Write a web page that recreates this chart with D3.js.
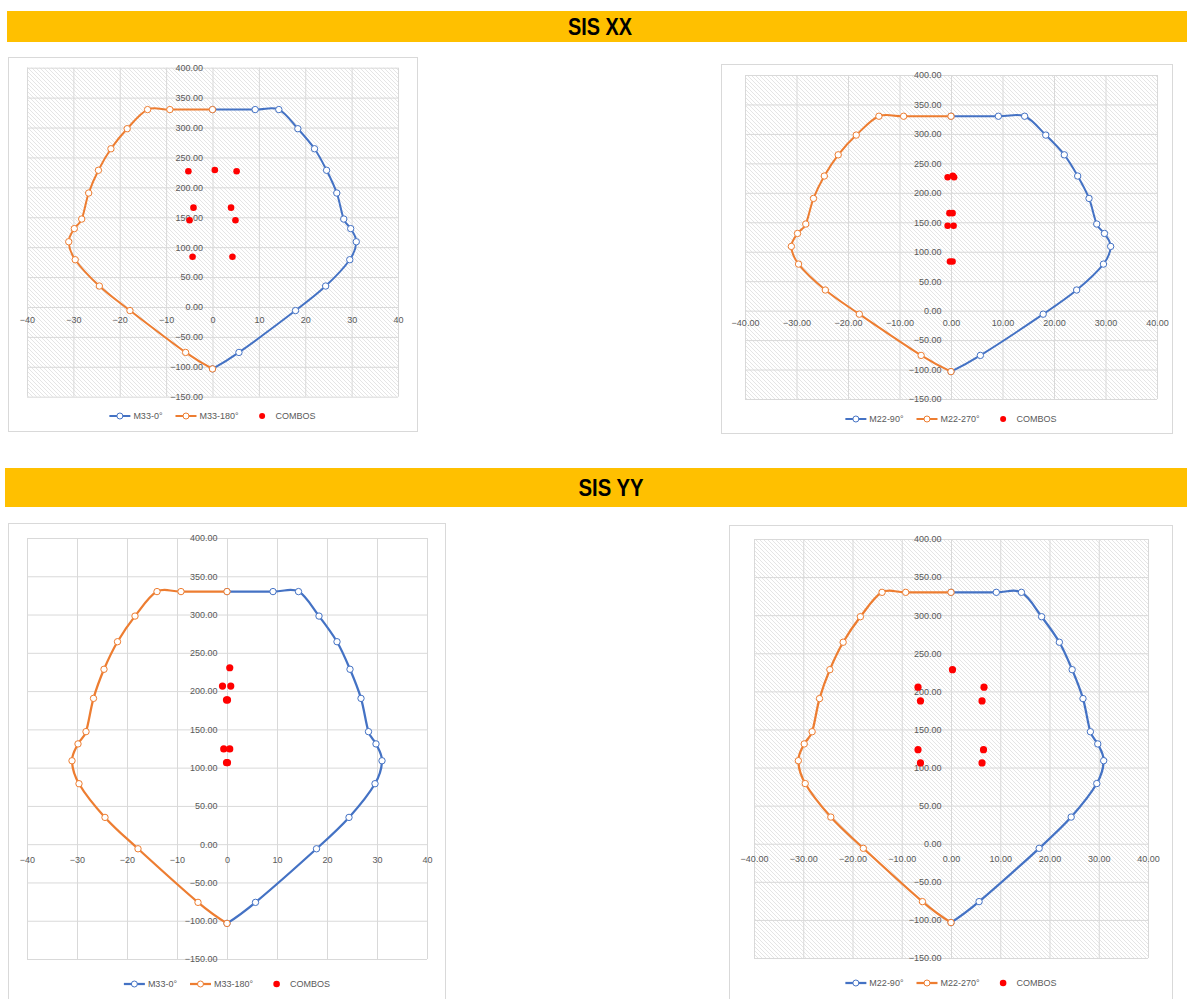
<!DOCTYPE html>
<html>
<head>
<meta charset="utf-8">
<script src="https://cdn.jsdelivr.net/npm/d3@7"></script>
<style>
  html, body { margin: 0; padding: 0; background: #fff; }
  svg { display: block; }
</style>
</head>
<body>
<svg id="sheet" width="1187" height="999"></svg>
<script>
// Axis ticks (moment in X, axial load in Y)
const momentTicks = [-40, -30, -20, -10, 0, 10, 20, 30, 40];
const axialTicks = [-150, -100, -50, 0, 50, 100, 150, 200, 250, 300, 350, 400];

// Interaction diagram, positive-moment branch [M, P]
const branchPositive = [
  [0, 330], [9.2, 330], [14.3, 330], [18.4, 298], [22.0, 264.5], [24.6, 228.5],
  [26.8, 190.5], [28.3, 147], [29.8, 131], [31.0, 109], [29.6, 79], [24.4, 35],
  [17.9, -6], [5.7, -76], [0, -103.5]
];
// Interaction diagram, negative-moment branch [M, P]
const branchNegative = [
  [0, 330], [-9.2, 330], [-14.0, 330], [-18.4, 298], [-21.9, 264.5], [-24.6, 228.5],
  [-26.7, 190.5], [-28.2, 147], [-29.8, 131], [-31.0, 109], [-29.6, 79], [-24.4, 35],
  [-17.8, -6], [-5.8, -76], [0, -103.5]
];

// Load combinations [M, P]
const combosXxM33 = [
  [-5.2, 227], [0.5, 229], [5.2, 227], [-4.1, 166], [4.0, 166],
  [-4.95, 145], [4.95, 145], [-4.3, 84], [4.3, 84]
];
const combosXxM22 = [
  [-0.65, 226.5], [0.35, 229], [0.6, 226.5], [-0.3, 165.5], [0.3, 165.5],
  [-0.65, 144], [0.5, 144], [-0.2, 83.5], [0.3, 83.5]
];
const combosYyM33 = [
  [0.55, 230.5], [-0.9, 206.5], [0.75, 206.5], [-0.1, 188.5], [0.1, 188.5],
  [-0.65, 124.5], [0.55, 124.5], [-0.1, 106.5], [0.1, 106.5]
];
const combosYyM22 = [
  [0.3, 228.5], [-6.7, 205.5], [6.7, 205.5], [-6.2, 187.5], [6.3, 187.5],
  [-6.7, 123.5], [6.6, 123.5], [-6.2, 106], [6.3, 106]
];

// Section headers
const headers = [
  { text: "SIS XX", x: 7, y: 11, w: 1180, h: 31, cx: 600, tw: 64 },
  { text: "SIS YY", x: 5, y: 468, w: 1182, h: 39, cx: 611, tw: 65 }
];

const COLORS = { pos: "#4472C4", neg: "#ED7D31", combo: "#FF0000", grid: "#D9D9D9", text: "#595959" };

const panels = [
  { id: "xx33", box: [8, 57, 409, 374], plot: [27, 67.7, 398, 396.7], hatched: true,
    xFmt: d3.format("d"), names: ["M33-0°", "M33-180°", "COMBOS"], combos: combosXxM33,
    legendY: 416, xPad: 9.5, r: 3.3, lw: 2 },
  { id: "xx22", box: [721, 64, 451, 369], plot: [745, 75, 1157, 399], hatched: true,
    xFmt: d3.format(".2f"), names: ["M22-90°", "M22-270°", "COMBOS"], combos: combosXxM22,
    legendY: 419, xPad: 9, r: 3.3, lw: 2 },
  { id: "yy33", box: [8, 523, 437, 490], plot: [27, 538, 427, 959], hatched: false,
    xFmt: d3.format("d"), names: ["M33-0°", "M33-180°", "COMBOS"], combos: combosYyM33,
    legendY: 984, xPad: 12, r: 3.6, lw: 2.25 },
  { id: "yy22", box: [729, 525, 443, 490], plot: [754, 539, 1148, 958], hatched: true,
    xFmt: d3.format(".2f"), names: ["M22-90°", "M22-270°", "COMBOS"], combos: combosYyM22,
    legendY: 983, xPad: 12, r: 3.6, lw: 2.25 }
];

const svg = d3.select("#sheet");
const defs = svg.append("defs");

// Downward-diagonal pattern fill for the plot areas
const pat = defs.append("pattern")
  .attr("id", "diag")
  .attr("patternUnits", "userSpaceOnUse")
  .attr("width", 4).attr("height", 4);
pat.append("rect").attr("width", 4).attr("height", 4).attr("fill", "#ffffff");
pat.append("path")
  .attr("d", "M-1,-1L5,5M3,-1L5,1M-1,3L1,5")
  .attr("stroke", "#dedede").attr("stroke-width", 0.8);

// Section header bars
headers.forEach(h => {
  svg.append("rect").attr("x", h.x).attr("y", h.y).attr("width", h.w).attr("height", h.h)
    .attr("fill", "#FFC000");
  svg.append("text").attr("x", h.cx).attr("y", h.y + h.h / 2)
    .attr("text-anchor", "middle").attr("dominant-baseline", "central")
    .attr("font-family", "'Liberation Sans', Arial, sans-serif")
    .attr("font-weight", "bold").attr("font-size", 24).attr("fill", "#000")
    .attr("textLength", h.tw).attr("lengthAdjust", "spacingAndGlyphs")
    .text(h.text);
});

panels.forEach(p => {
  const g = svg.append("g").attr("class", "panel-" + p.id);
  const [bx, by, bw, bh] = p.box;
  const [pl, pt, pr, pb] = p.plot;

  g.append("rect").attr("x", bx + 0.5).attr("y", by + 0.5).attr("width", bw).attr("height", bh)
    .attr("fill", "#fff").attr("stroke", COLORS.grid).attr("stroke-width", 1);

  const x = d3.scaleLinear().domain([-40, 40]).range([pl, pr]);
  const y = d3.scaleLinear().domain([-150, 400]).range([pb, pt]);

  g.append("rect").attr("x", pl).attr("y", pt).attr("width", pr - pl).attr("height", pb - pt)
    .attr("fill", p.hatched ? "url(#diag)" : "#fff");

  // Gridlines
  const gx = g.append("g").attr("transform", `translate(0,${pb})`)
    .call(d3.axisBottom(x).tickValues(momentTicks).tickSize(-(pb - pt)).tickFormat(""));
  const gy = g.append("g").attr("transform", `translate(${pl},0)`)
    .call(d3.axisLeft(y).tickValues(axialTicks).tickSize(-(pr - pl)).tickFormat(""));
  [gx, gy].forEach(a => {
    a.select(".domain").remove();
    a.selectAll("line").attr("stroke", COLORS.grid).attr("stroke-width", 1);
  });

  // Axis labels crossing at the origin
  const ax = g.append("g").attr("transform", `translate(0,${y(0)})`)
    .call(d3.axisBottom(x).tickValues(momentTicks).tickSize(0).tickPadding(p.xPad).tickFormat(p.xFmt));
  const ay = g.append("g").attr("transform", `translate(${x(0)},0)`)
    .call(d3.axisLeft(y).tickValues(axialTicks).tickSize(0).tickPadding(9.5).tickFormat(d3.format(".2f")));
  [ax, ay].forEach(a => {
    a.select(".domain").remove();
    a.selectAll("text").attr("fill", COLORS.text).attr("font-size", 9)
      .attr("font-family", "'Liberation Sans', Arial, sans-serif");
  });

  const line = d3.line().x(d => x(d[0])).y(d => y(d[1])).curve(d3.curveCardinal.tension(0));

  [[branchPositive, COLORS.pos], [branchNegative, COLORS.neg]].forEach(([data, col]) => {
    g.append("path").datum(data).attr("d", line)
      .attr("fill", "none").attr("stroke", col).attr("stroke-width", p.lw)
      .attr("stroke-linejoin", "round").attr("stroke-linecap", "round");
    g.selectAll(null).data(data).join("circle")
      .attr("cx", d => x(d[0])).attr("cy", d => y(d[1])).attr("r", 3.2)
      .attr("fill", "#fff").attr("stroke", col).attr("stroke-width", 1);
  });

  g.selectAll(null).data(p.combos).join("circle")
    .attr("cx", d => x(d[0])).attr("cy", d => y(d[1])).attr("r", p.r)
    .attr("fill", COLORS.combo);

  // Legend, centred under the plot area
  const leg = g.append("g");
  const items = [
    { name: p.names[0], col: COLORS.pos, type: "line" },
    { name: p.names[1], col: COLORS.neg, type: "line" },
    { name: p.names[2], col: COLORS.combo, type: "dot" }
  ];
  let cursor = 0;
  items.forEach(it => {
    const ig = leg.append("g").attr("transform", `translate(${cursor},0)`);
    if (it.type === "line") {
      ig.append("line").attr("x1", 0).attr("x2", 21).attr("y1", 0).attr("y2", 0)
        .attr("stroke", it.col).attr("stroke-width", p.lw);
      ig.append("circle").attr("cx", 10.5).attr("cy", 0).attr("r", 3)
        .attr("fill", "#fff").attr("stroke", it.col).attr("stroke-width", 1);
    } else {
      ig.append("circle").attr("cx", 10.5).attr("cy", 0).attr("r", p.r - 0.3).attr("fill", it.col);
    }
    const t = ig.append("text").attr("x", 24).attr("y", 0).attr("dy", "0.35em")
      .attr("font-size", 9).attr("fill", COLORS.text)
      .attr("font-family", "'Liberation Sans', Arial, sans-serif")
      .text(it.name);
    cursor += 24 + t.node().getComputedTextLength() + (it.type === "line" ? 13 : 0);
  });
  const legW = cursor;
  leg.attr("transform", `translate(${(pl + pr) / 2 - legW / 2},${p.legendY})`);
});
</script>
</body>
</html>
